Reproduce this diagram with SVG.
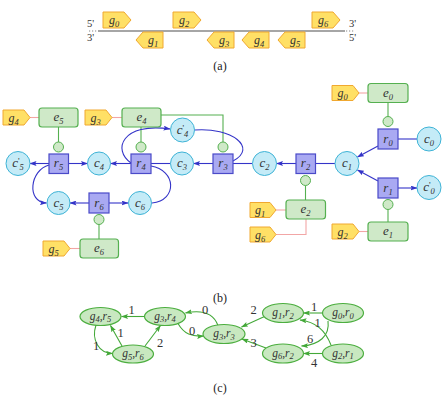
<svg xmlns="http://www.w3.org/2000/svg" width="445" height="402" viewBox="0 0 445 402">
<defs>
<style>
.gene{fill:#ffe066;stroke:#f0a830;stroke-width:1}
.ebox{fill:#cfe9c8;stroke:#55b050;stroke-width:1.2}
.dot{fill:#cfe9c8;stroke:#55b050;stroke-width:1}
.cc{fill:#c4ebf7;stroke:#3eb3d6;stroke-width:1}
.rr{fill:#a9a9f2;stroke:#4a4ac8;stroke-width:1.2}
.be{fill:none;stroke:#3434c8;stroke-width:1.1}
.bea{fill:none;stroke:#3434c8;stroke-width:1.1;marker-end:url(#ab)}
.gl{fill:none;stroke:#55b050;stroke-width:1.1}
.pk{fill:none;stroke:#f2a6a6;stroke-width:1.1}
.el{fill:#c8e8c0;stroke:#4cae3f;stroke-width:1.2}
.ge{fill:none;stroke:#43a838;stroke-width:1.1;marker-end:url(#ag)}
.lb{font-family:"Liberation Serif",serif;font-style:italic;font-size:13px;fill:#333;text-anchor:middle}
.gl2{font-family:"Liberation Serif",serif;font-style:italic;font-size:12px;fill:#333;text-anchor:middle}
.cl{font-family:"Liberation Serif",serif;font-style:italic;font-size:11.5px;fill:#333;text-anchor:middle}
.num{font-family:"Liberation Serif",serif;font-size:12.5px;fill:#333;text-anchor:middle}
.cap{font-family:"Liberation Serif",serif;font-size:12px;fill:#222;text-anchor:middle}
.end{font-family:"Liberation Serif",serif;font-size:10.5px;fill:#333}
.s{font-size:8.5px}
</style>
<marker id="ab" viewBox="0 0 7 5" refX="6.5" refY="2.5" markerWidth="7" markerHeight="5" markerUnits="userSpaceOnUse" orient="auto">
<path d="M0,0 L7,2.5 L0,5 L1.3,2.5 z" fill="#3434c8"/>
</marker>
<marker id="ag" viewBox="0 0 7 5" refX="6.5" refY="2.5" markerWidth="7" markerHeight="5" markerUnits="userSpaceOnUse" orient="auto">
<path d="M0,0 L7,2.5 L0,5 L1.3,2.5 z" fill="#43a838"/>
</marker>
</defs>
<rect width="445" height="402" fill="#fff"/>

<!-- (a) -->
<g id="panel-a">
<line x1="98" y1="31" x2="345" y2="31" stroke="#888" stroke-width="1.5"/>
<line x1="89" y1="31" x2="97" y2="31" stroke="#888" stroke-width="1.2" stroke-dasharray="1.2,1.8"/>
<line x1="346" y1="31" x2="354" y2="31" stroke="#888" stroke-width="1.2" stroke-dasharray="1.2,1.8"/>
<text class="end" x="87" y="27">5'</text>
<text class="end" x="87" y="41">3'</text>
<text class="end" x="349" y="27">3'</text>
<text class="end" x="349" y="41">5'</text>
<g id="a-g0"><polygon class="gene" points="103,12 124,12 131,20 124,28 103,28"/><text class="gl2" x="114" y="24">g<tspan class="s" dy="3">0</tspan></text></g>
<g id="a-g2"><polygon class="gene" points="173,12 194,12 201,20 194,28 173,28"/><text class="gl2" x="184" y="24">g<tspan class="s" dy="3">2</tspan></text></g>
<g id="a-g6"><polygon class="gene" points="312,12 333,12 340,20 333,28 312,28"/><text class="gl2" x="323" y="24">g<tspan class="s" dy="3">6</tspan></text></g>
<g id="a-g1"><polygon class="gene" points="136,40 143,32 163,32 163,48 143,48"/><text class="gl2" x="153" y="44">g<tspan class="s" dy="3">1</tspan></text></g>
<g id="a-g3"><polygon class="gene" points="207,40 214,32 234,32 234,48 214,48"/><text class="gl2" x="224" y="44">g<tspan class="s" dy="3">3</tspan></text></g>
<g id="a-g4"><polygon class="gene" points="242,40 249,32 269,32 269,48 249,48"/><text class="gl2" x="259" y="44">g<tspan class="s" dy="3">4</tspan></text></g>
<g id="a-g5"><polygon class="gene" points="278,40 285,32 305,32 305,48 285,48"/><text class="gl2" x="295" y="44">g<tspan class="s" dy="3">5</tspan></text></g>
<text class="cap" x="220" y="70">(a)</text>
</g>

<!-- (b) connectors -->
<g id="connectors-b">
<line class="gl" x1="58.5" y1="127" x2="58.5" y2="142"/>
<line class="gl" x1="141" y1="127" x2="141" y2="142"/>
<polyline class="gl" points="161,115 223,115 223,142"/>
<line class="gl" x1="388" y1="103" x2="388" y2="116.5"/>
<line class="gl" x1="388" y1="209.5" x2="388" y2="222"/>
<line class="gl" x1="305.5" y1="185.5" x2="305.5" y2="200"/>
<line class="gl" x1="99" y1="224.5" x2="99" y2="239"/>
<line class="pk" x1="30" y1="117.5" x2="39" y2="117.5"/>
<line class="pk" x1="112" y1="117.5" x2="122" y2="117.5"/>
<line class="pk" x1="359" y1="93" x2="368" y2="93"/>
<line class="pk" x1="276" y1="210" x2="286" y2="210"/>
<polyline class="pk" points="276,234.5 306,234.5 306,219"/>
<line class="pk" x1="359" y1="231.5" x2="368" y2="231.5"/>
<line class="pk" x1="70" y1="248.5" x2="80" y2="248.5"/>
<line class="bea" x1="49" y1="163.5" x2="30" y2="163.5"/>
<line class="bea" x1="68" y1="163.5" x2="87.5" y2="163.5"/>
<line class="bea" x1="131" y1="163.5" x2="110.5" y2="163.5"/>
<line class="be" x1="151" y1="163.5" x2="170.5" y2="163.5"/>
<line class="bea" x1="213" y1="163.5" x2="193.5" y2="163.5"/>
<line class="be" x1="233" y1="163.5" x2="252.5" y2="163.5"/>
<line class="bea" x1="296" y1="163.5" x2="276.5" y2="163.5"/>
<line class="be" x1="315" y1="163.5" x2="335" y2="163.5"/>
<line class="bea" x1="378" y1="146" x2="357.5" y2="157"/>
<line class="bea" x1="378" y1="181" x2="357.5" y2="170"/>
<line class="be" x1="398" y1="139" x2="417" y2="139"/>
<line class="bea" x1="398" y1="188" x2="417" y2="188"/>
<line class="bea" x1="89" y1="203" x2="70" y2="203"/>
<line class="bea" x1="109" y1="203" x2="128" y2="203"/>
<path class="bea" d="M49,165 C30,170 26,202 46.5,203"/>
<path class="bea" d="M131,163 C112,150 122,122 170,129"/>
<path class="be" d="M194.5,130 C232,127 258,148 233,161"/>
<path class="be" d="M151,166 C176,170 178,200 152,203"/>
</g>

<!-- (b) nodes -->
<g id="c5p"><circle class="cc" cx="18" cy="163.5" r="12"/><text class="lb" x="18" y="167">c<tspan font-style="normal" dy="-3" font-size="9px">'</tspan><tspan class="s" dy="6">5</tspan></text></g>
<g id="r5"><rect class="rr" x="49" y="154" width="19.5" height="19.5"/><text class="lb" x="58.5" y="167">r<tspan class="s" dy="3">5</tspan></text></g>
<g id="c4"><circle class="cc" cx="99" cy="163.5" r="11.5"/><text class="lb" x="99" y="167">c<tspan class="s" dy="3">4</tspan></text></g>
<g id="r4"><rect class="rr" x="131" y="154" width="20" height="19.5"/><text class="lb" x="141" y="167">r<tspan class="s" dy="3">4</tspan></text></g>
<g id="c3"><circle class="cc" cx="182" cy="163.5" r="11.5"/><text class="lb" x="182" y="167">c<tspan class="s" dy="3">3</tspan></text></g>
<g id="r3"><rect class="rr" x="213" y="154" width="20" height="19.5"/><text class="lb" x="223" y="167">r<tspan class="s" dy="3">3</tspan></text></g>
<g id="c2"><circle class="cc" cx="264.5" cy="163.5" r="12"/><text class="lb" x="264.5" y="167">c<tspan class="s" dy="3">2</tspan></text></g>
<g id="r2"><rect class="rr" x="296" y="154" width="19.5" height="19.5"/><text class="lb" x="305.5" y="167">r<tspan class="s" dy="3">2</tspan></text></g>
<g id="c1"><circle class="cc" cx="347" cy="163.5" r="12"/><text class="lb" x="347" y="167">c<tspan class="s" dy="3">1</tspan></text></g>
<g id="r0"><rect class="rr" x="378" y="129" width="20" height="20"/><text class="lb" x="388" y="142.5">r<tspan class="s" dy="3">0</tspan></text></g>
<g id="c0"><circle class="cc" cx="429" cy="139" r="12"/><text class="lb" x="429" y="142.5">c<tspan class="s" dy="3">0</tspan></text></g>
<g id="r1"><rect class="rr" x="378" y="178" width="20" height="20"/><text class="lb" x="388" y="191.5">r<tspan class="s" dy="3">1</tspan></text></g>
<g id="c0p"><circle class="cc" cx="429" cy="187.5" r="12"/><text class="lb" x="429" y="191">c<tspan font-style="normal" dy="-3" font-size="9px">'</tspan><tspan class="s" dy="6">0</tspan></text></g>
<g id="c4p"><circle class="cc" cx="182.5" cy="130" r="12"/><text class="lb" x="182.5" y="133.5">c<tspan font-style="normal" dy="-3" font-size="9px">'</tspan><tspan class="s" dy="6">4</tspan></text></g>
<g id="c5"><circle class="cc" cx="58.5" cy="203" r="11.5"/><text class="lb" x="58.5" y="206.5">c<tspan class="s" dy="3">5</tspan></text></g>
<g id="r6"><rect class="rr" x="89" y="193" width="20" height="20"/><text class="lb" x="99" y="206.5">r<tspan class="s" dy="3">6</tspan></text></g>
<g id="c6"><circle class="cc" cx="140" cy="203" r="11.5"/><text class="lb" x="140" y="206.5">c<tspan class="s" dy="3">6</tspan></text></g>

<g id="d5"><circle class="dot" cx="58.5" cy="147" r="5"/></g>
<g id="d4"><circle class="dot" cx="141" cy="147" r="5"/></g>
<g id="d3"><circle class="dot" cx="223" cy="147" r="5"/></g>
<g id="d0"><circle class="dot" cx="388" cy="121.5" r="5"/></g>
<g id="d1"><circle class="dot" cx="388" cy="204.5" r="5"/></g>
<g id="d2"><circle class="dot" cx="305.5" cy="180.5" r="5"/></g>
<g id="d6"><circle class="dot" cx="99" cy="219.5" r="5"/></g>

<g id="e5"><rect class="ebox" x="39" y="108" width="39" height="19" rx="3"/><text class="lb" x="58.5" y="121">e<tspan class="s" dy="3">5</tspan></text></g>
<g id="e4"><rect class="ebox" x="122" y="108" width="39" height="19" rx="3"/><text class="lb" x="141.5" y="121">e<tspan class="s" dy="3">4</tspan></text></g>
<g id="e0"><rect class="ebox" x="368" y="83.5" width="40" height="19" rx="3"/><text class="lb" x="388" y="96.5">e<tspan class="s" dy="3">0</tspan></text></g>
<g id="e2"><rect class="ebox" x="286" y="200" width="39.5" height="19" rx="3"/><text class="lb" x="305.5" y="213">e<tspan class="s" dy="3">2</tspan></text></g>
<g id="e1"><rect class="ebox" x="368" y="222" width="40" height="19" rx="3"/><text class="lb" x="388" y="235">e<tspan class="s" dy="3">1</tspan></text></g>
<g id="e6"><rect class="ebox" x="80" y="239" width="38.5" height="19" rx="3"/><text class="lb" x="99" y="252">e<tspan class="s" dy="3">6</tspan></text></g>

<g id="b-g4"><polygon class="gene" points="3,110 24,110 30,117.5 24,125 3,125"/><text class="gl2" x="13.5" y="121.5">g<tspan class="s" dy="3">4</tspan></text></g>
<g id="b-g3"><polygon class="gene" points="85,110 106,110 112,117.5 106,125 85,125"/><text class="gl2" x="95.5" y="121.5">g<tspan class="s" dy="3">3</tspan></text></g>
<g id="b-g0"><polygon class="gene" points="332,85.5 353,85.5 359,93 353,100.5 332,100.5"/><text class="gl2" x="342.5" y="97">g<tspan class="s" dy="3">0</tspan></text></g>
<g id="b-g1"><polygon class="gene" points="250,202.5 270,202.5 276,210 270,217.5 250,217.5"/><text class="gl2" x="260" y="214">g<tspan class="s" dy="3">1</tspan></text></g>
<g id="b-g6"><polygon class="gene" points="250,227 270,227 276,234.5 270,242 250,242"/><text class="gl2" x="260" y="238.5">g<tspan class="s" dy="3">6</tspan></text></g>
<g id="b-g2"><polygon class="gene" points="332,224 353,224 359,231.5 353,239 332,239"/><text class="gl2" x="342.5" y="235.5">g<tspan class="s" dy="3">2</tspan></text></g>
<g id="b-g5"><polygon class="gene" points="43,241 64,241 70,248.5 64,256 43,256"/><text class="gl2" x="53.5" y="252.5">g<tspan class="s" dy="3">5</tspan></text></g>
<text class="cap" x="220" y="302">(b)</text>

<!-- (c) connectors -->
<g id="connectors-c">
<line class="ge" x1="145" y1="316.5" x2="121.5" y2="316.5"/>
<line class="ge" x1="122" y1="346" x2="110.5" y2="325.5"/>
<path class="ge" d="M96,325 C91,340 99,353 112.5,353.5"/>
<line class="ge" x1="145" y1="346" x2="160.5" y2="325.5"/>
<path class="ge" d="M218,325.5 C213,312 200,310 185.5,313"/>
<path class="ge" d="M178,323.5 C184,334 192,337 203.5,336"/>
<line class="ge" x1="264.5" y1="316.5" x2="241.5" y2="327"/>
<line class="ge" x1="266" y1="348" x2="242" y2="339"/>
<line class="ge" x1="323" y1="313" x2="303.5" y2="313"/>
<path class="ge" d="M331,345 C325,330 316,322 300,320"/>
<path class="ge" d="M328,321 C330,336 319,345 301.5,346"/>
<line class="ge" x1="323" y1="353.5" x2="303.5" y2="353.5"/>
<text class="num" x="131.5" y="314">1</text>
<text class="num" x="120.5" y="336.5">1</text>
<text class="num" x="96" y="350">1</text>
<text class="num" x="160" y="346.5">2</text>
<text class="num" x="205" y="314">0</text>
<text class="num" x="192" y="334.5">0</text>
<text class="num" x="253.5" y="314">2</text>
<text class="num" x="253.5" y="346.5">3</text>
<text class="num" x="314" y="310.5">1</text>
<text class="num" x="317.5" y="326.5">1</text>
<text class="num" x="310" y="342.5">6</text>
<text class="num" x="314" y="366.5">4</text>
</g>

<!-- (c) nodes -->
<g id="n-g4r5"><ellipse class="el" cx="100.5" cy="316.5" rx="20.5" ry="9"/><text class="cl" x="100.5" y="319.5">g<tspan class="s" dy="2.5">4</tspan><tspan dy="-2.5">,r</tspan><tspan class="s" dy="2.5">5</tspan></text></g>
<g id="n-g3r4"><ellipse class="el" cx="165" cy="316.5" rx="20.5" ry="9"/><text class="cl" x="165" y="319.5">g<tspan class="s" dy="2.5">3</tspan><tspan dy="-2.5">,r</tspan><tspan class="s" dy="2.5">4</tspan></text></g>
<g id="n-g5r6"><ellipse class="el" cx="133" cy="354" rx="20.5" ry="9"/><text class="cl" x="133" y="357">g<tspan class="s" dy="2.5">5</tspan><tspan dy="-2.5">,r</tspan><tspan class="s" dy="2.5">6</tspan></text></g>
<g id="n-g3r3"><ellipse class="el" cx="224" cy="334" rx="21" ry="9.5"/><text class="cl" x="224" y="337">g<tspan class="s" dy="2.5">3</tspan><tspan dy="-2.5">,r</tspan><tspan class="s" dy="2.5">3</tspan></text></g>
<g id="n-g1r2"><ellipse class="el" cx="283" cy="313" rx="20.5" ry="9.5"/><text class="cl" x="283" y="316">g<tspan class="s" dy="2.5">1</tspan><tspan dy="-2.5">,r</tspan><tspan class="s" dy="2.5">2</tspan></text></g>
<g id="n-g0r0"><ellipse class="el" cx="343" cy="313" rx="20.5" ry="9.5"/><text class="cl" x="343" y="316">g<tspan class="s" dy="2.5">0</tspan><tspan dy="-2.5">,r</tspan><tspan class="s" dy="2.5">0</tspan></text></g>
<g id="n-g6r2"><ellipse class="el" cx="283" cy="353.5" rx="20.5" ry="9.5"/><text class="cl" x="283" y="356.5">g<tspan class="s" dy="2.5">6</tspan><tspan dy="-2.5">,r</tspan><tspan class="s" dy="2.5">2</tspan></text></g>
<g id="n-g2r1"><ellipse class="el" cx="343" cy="353.5" rx="20.5" ry="9.5"/><text class="cl" x="343" y="356.5">g<tspan class="s" dy="2.5">2</tspan><tspan dy="-2.5">,r</tspan><tspan class="s" dy="2.5">1</tspan></text></g>
<text class="cap" x="220" y="392">(c)</text>
</svg>
